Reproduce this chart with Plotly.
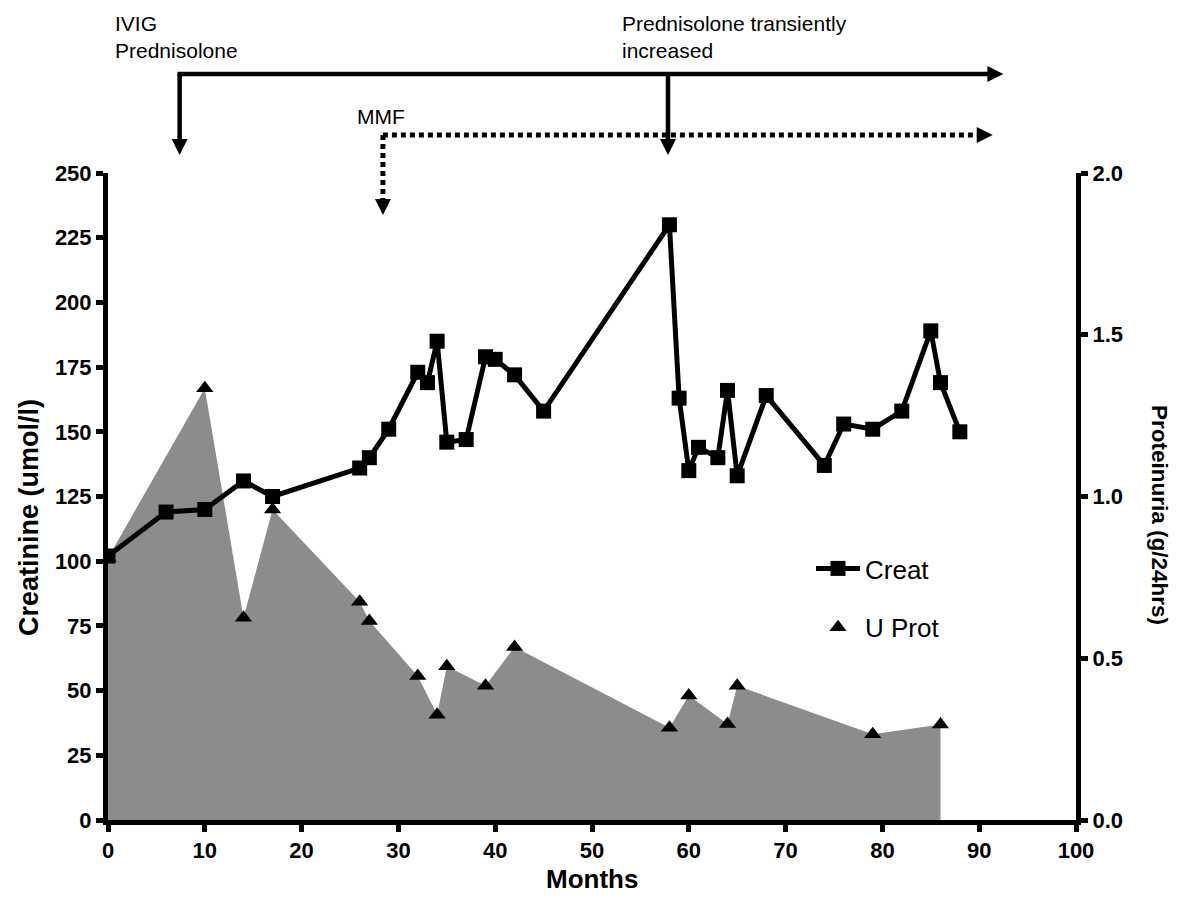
import plotly.graph_objects as go

# ---------------- data ----------------
creat_months = [0, 6, 10, 14, 17, 26, 27, 29, 32, 33, 34, 35, 37, 39, 40, 42, 45,
                58, 59, 60, 61, 63, 64, 65, 68, 74, 76, 79, 82, 85, 86, 88]
creat_values = [102, 119, 120, 131, 125, 136, 140, 151, 173, 169, 185, 146, 147, 179, 178, 172, 158,
                230, 163, 135, 144, 140, 166, 133, 164, 137, 153, 151, 158, 189, 169, 150]

prot_months = [0, 10, 14, 17, 26, 27, 32, 34, 35, 39, 42, 58, 60, 64, 65, 79, 86]
prot_values = [0.81, 1.335, 0.625, 0.96, 0.675, 0.615, 0.445, 0.325, 0.475, 0.415, 0.535,
               0.285, 0.385, 0.297, 0.415, 0.265, 0.295]

x_ticks = [0, 10, 20, 30, 40, 50, 60, 70, 80, 90, 100]
left_ticks = [0, 25, 50, 75, 100, 125, 150, 175, 200, 225, 250]
right_ticks = [0.0, 0.5, 1.0, 1.5, 2.0]
right_tick_text = ["0.0", "0.5", "1.0", "1.5", "2.0"]

# treatment start months (annotations)
ivig_month = 7.4
mmf_month = 28.4
pred_inc_month = 57.85
arrow_end_solid = 92.5
arrow_end_dotted = 91.4

FONT = "Arial, Liberation Sans, sans-serif"
W, H = 1200, 909
L, R, T, B = 108, 124, 173, 89
PH = H - T - B


def yp(py):
    return (H - B - py) / PH


def xp(px):
    return (px - L) / (W - L - R)


fig = go.Figure()

# protein area (base y axis, right side)
fig.add_trace(go.Scatter(
    x=prot_months, y=prot_values, mode="lines", line=dict(width=0, color="#8c8c8c"),
    fill="tozeroy", fillcolor="#8c8c8c", showlegend=False, hoverinfo="skip", yaxis="y"))
fig.add_trace(go.Scatter(
    x=prot_months, y=prot_values, mode="markers", name="U Prot",
    marker=dict(symbol="triangle-up", size=15, color="black"),
    legendgroup="b", legendrank=2, yaxis="y"))
# creatinine (overlay y2, left side)
fig.add_trace(go.Scatter(
    x=creat_months, y=creat_values, mode="lines+markers", name="Creat",
    line=dict(color="black", width=5),
    marker=dict(symbol="square", size=15, color="black"),
    legendgroup="a", legendrank=1, yaxis="y2"))

axis_common = dict(showline=True, linewidth=5, linecolor="black", ticks="outside",
                   ticklen=7, tickwidth=5, tickcolor="black", showgrid=False, zeroline=False,
                   tickfont=dict(family=FONT, size=22, color="black", weight="bold"))

fig.update_layout(
    width=W, height=H,
    margin=dict(l=L, r=R, t=T, b=B),
    plot_bgcolor="white", paper_bgcolor="white",
    xaxis=dict(range=[0, 100], tickvals=x_ticks, **axis_common),
    yaxis=dict(range=[0, 2], side="right", tickvals=right_ticks, ticktext=right_tick_text,
               **axis_common),
    yaxis2=dict(range=[0, 250], side="left", overlaying="y", tickvals=left_ticks, **axis_common),
    legend=dict(x=xp(811), y=yp(545), xanchor="left", yanchor="top",
                font=dict(family=FONT, size=26, color="black"),
                bgcolor="rgba(0,0,0,0)", tracegroupgap=22, itemwidth=44),
)

ann = []
ann.append(dict(text="<b>Months</b>", xref="paper", yref="paper",
                x=xp(592), y=yp(879), xanchor="center", yanchor="middle",
                showarrow=False, font=dict(family=FONT, size=26, color="black")))
ann.append(dict(text="<b>Creatinine (umol/l)</b>", xref="paper", yref="paper",
                x=xp(29), y=yp(518), xanchor="center", yanchor="middle",
                textangle=-90, showarrow=False,
                font=dict(family=FONT, size=27, color="black")))
ann.append(dict(text="<b>Proteinuria (g/24hrs)</b>", xref="paper", yref="paper",
                x=xp(1160), y=yp(515), xanchor="center", yanchor="middle",
                textangle=90, showarrow=False,
                font=dict(family=FONT, size=22.5, color="black")))
ann.append(dict(text="IVIG<br>Prednisolone", xref="paper", yref="paper",
                x=xp(113), y=yp(10), xanchor="left", yanchor="top", align="left",
                showarrow=False, font=dict(family=FONT, size=21, color="black")))
ann.append(dict(text="Prednisolone transiently<br>increased", xref="paper", yref="paper",
                x=xp(620), y=yp(10), xanchor="left", yanchor="top", align="left",
                showarrow=False, font=dict(family=FONT, size=21, color="black")))
ann.append(dict(text="MMF", xref="paper", yref="paper",
                x=xp(355), y=yp(103), xanchor="left", yanchor="top", align="left",
                showarrow=False, font=dict(family=FONT, size=21, color="black")))
fig.update_layout(annotations=ann)

shapes = []
solid = dict(color="black", width=4.5)
dotted = dict(color="black", width=5, dash="5px,4px")
y_solid = yp(74)
y_dot = yp(135)
# solid horizontal
shapes.append(dict(type="line", xref="x", yref="paper", x0=ivig_month - 0.22, x1=arrow_end_solid - 1.4,
                   y0=y_solid, y1=y_solid, line=solid, layer="above"))
# solid verticals
for m in [ivig_month, pred_inc_month]:
    shapes.append(dict(type="line", xref="x", yref="paper", x0=m, x1=m,
                       y0=y_solid, y1=yp(143), line=solid, layer="above"))
# dotted horizontal & vertical
shapes.append(dict(type="line", xref="x", yref="paper", x0=mmf_month, x1=arrow_end_dotted - 1.3,
                   y0=y_dot, y1=y_dot, line=dotted, layer="above"))
shapes.append(dict(type="line", xref="x", yref="paper", x0=mmf_month, x1=mmf_month,
                   y0=y_dot, y1=yp(203), line=dotted, layer="above"))


def head_down(xm, tip_py):
    return dict(type="path", xref="x", yref="paper", xsizemode="pixel", ysizemode="pixel",
                xanchor=xm, yanchor=yp(tip_py), path="M -8,16 L 8,16 L 0,0 Z",
                fillcolor="black", line=dict(width=0), layer="above")


def head_right(xm, py):
    return dict(type="path", xref="x", yref="paper", xsizemode="pixel", ysizemode="pixel",
                xanchor=xm, yanchor=yp(py), path="M -16,8 L -16,-8 L 0,0 Z",
                fillcolor="black", line=dict(width=0), layer="above")


shapes.append(head_down(ivig_month, 155))
shapes.append(head_down(pred_inc_month, 155))
shapes.append(head_down(mmf_month, 215))
shapes.append(head_right(arrow_end_solid, 74))
shapes.append(head_right(arrow_end_dotted, 135))
fig.update_layout(shapes=shapes)

fig.write_html("out.html", config={"displayModeBar": False},
               post_script="document.body.style.margin='0';")
